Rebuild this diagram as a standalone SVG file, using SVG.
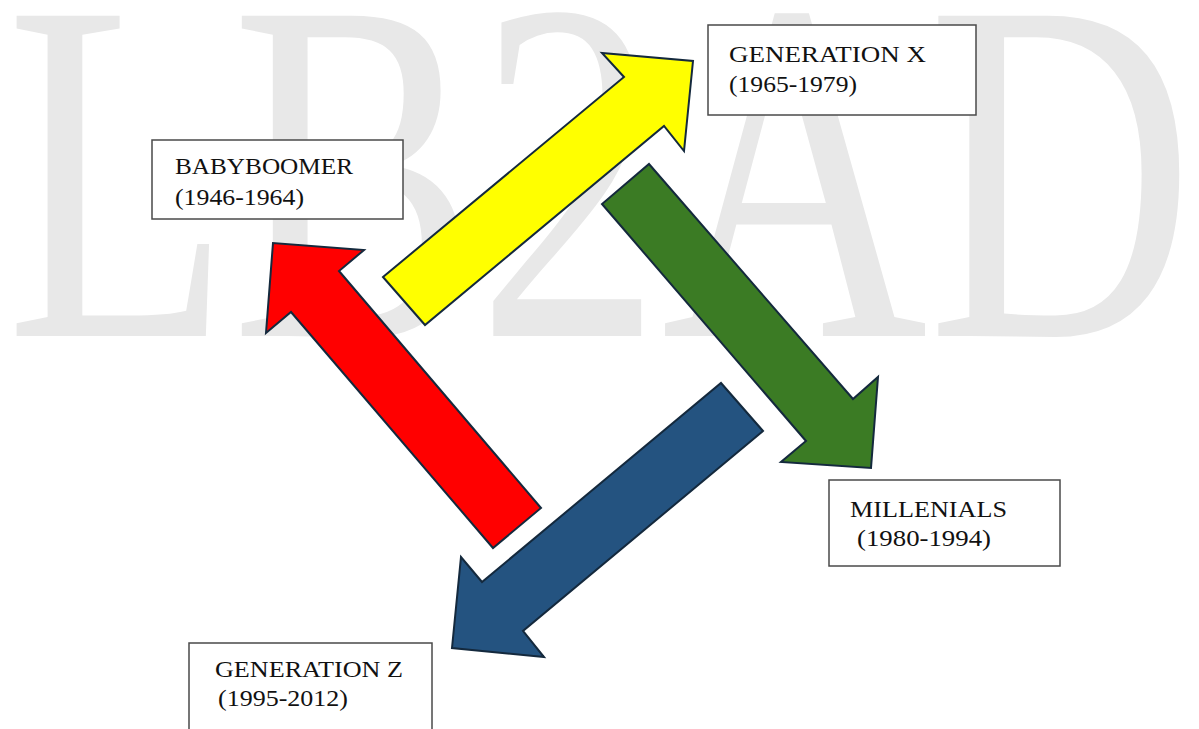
<svg xmlns="http://www.w3.org/2000/svg" width="1199" height="729" viewBox="0 0 1199 729">
<style>
.wm{font-family:"Liberation Serif","Times New Roman",serif;font-size:489px;fill:#e8e8e8}
.box{fill:#ffffff;stroke:#4a4a4a;stroke-width:1.5}
.lbl{font-family:"Liberation Serif","Times New Roman",serif;font-size:22.5px;fill:#111111}
.arrow{stroke:#14293d;stroke-width:2;stroke-linejoin:miter}
</style>
<rect width="1199" height="729" fill="#ffffff"/>
<text class="wm" x="6" y="336" textLength="1188" lengthAdjust="spacingAndGlyphs">LB2AD</text>
<g id="connectors">
<polygon id="arrow-yellow" class="arrow" fill="#ffff00" points="383,277 624,77 602,53 693,61 684,151 664,126 425,325"/>
<polygon id="arrow-green" class="arrow" fill="#3b7b24" points="649,164 853,399 878,377 871,468 781,462 806,441 602,204"/>
<polygon id="arrow-blue" class="arrow" fill="#245380" points="721,383 763,431 523,631 544,657 452,648 461,557 482,582"/>
<polygon id="arrow-red" class="arrow" fill="#ff0000" points="541,508 339,271 364,250 273,243 266,333 291,312 493,548"/>
</g>
<g id="node-babyboomer">
<rect class="box" x="152" y="140" width="251" height="79"/>
<text class="lbl" x="175" y="174" textLength="178" lengthAdjust="spacingAndGlyphs">BABYBOOMER</text>
<text class="lbl" x="175" y="205" textLength="129" lengthAdjust="spacingAndGlyphs">(1946-1964)</text>
</g>
<g id="node-genx">
<rect class="box" x="708" y="25" width="268" height="90"/>
<text class="lbl" x="729" y="62" textLength="197" lengthAdjust="spacingAndGlyphs">GENERATION X</text>
<text class="lbl" x="729" y="92" textLength="128" lengthAdjust="spacingAndGlyphs">(1965-1979)</text>
</g>
<g id="node-millenials">
<rect class="box" x="829" y="480" width="231" height="86"/>
<text class="lbl" x="850" y="517" textLength="157" lengthAdjust="spacingAndGlyphs">MILLENIALS</text>
<text class="lbl" x="857" y="546" textLength="134" lengthAdjust="spacingAndGlyphs">(1980-1994)</text>
</g>
<g id="node-genz">
<rect class="box" x="189" y="643" width="243" height="100"/>
<text class="lbl" x="215" y="677" textLength="188" lengthAdjust="spacingAndGlyphs">GENERATION Z</text>
<text class="lbl" x="218" y="706" textLength="130" lengthAdjust="spacingAndGlyphs">(1995-2012)</text>
</g>
</svg>
